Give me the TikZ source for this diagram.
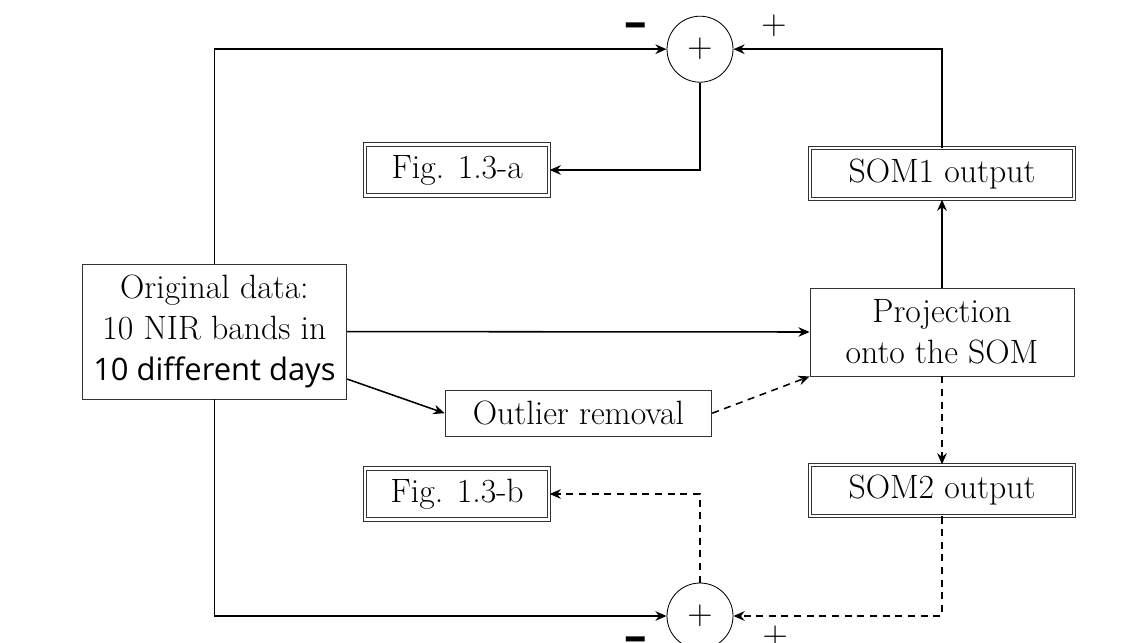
\documentclass[tikz,border=0pt]{standalone}
\usepackage{fontspec}
\usepackage{tikz}
\usetikzlibrary{arrows.meta,positioning,calc}
\newfontfamily\daysfont{Open Sans}

\begin{document}
\begin{tikzpicture}[
    node distance=2.25cm,
    every node/.style={font=\fontsize{24}{29}\selectfont},
    box/.style={draw=black!80, line width=0.6pt, minimum height=1.15cm,
                align=center, inner sep=2pt},
    outbox/.style={box, double, double distance=1.8pt,
                   minimum height=1.28cm},
    sum/.style={draw, circle, line width=0.6pt, minimum size=1.65cm, inner sep=0pt},
    sign/.style={inner sep=0pt},
    arrow/.style={-{Stealth[length=2.8mm,width=2.4mm]}, line width=1.1pt},
    darrow/.style={arrow, dash pattern=on 5pt off 4pt}
]
    \useasboundingbox (0,0) rectangle (28.5,-16.05);
    \node[box, minimum width=6.62cm, minimum height=3.37cm] (orig) at (5.36,-8.29)
        {Original data:\\10 NIR bands in\\{\daysfont\fontsize{22}{29}\selectfont 10 different days}};
    \node[box, minimum width=6.6cm, minimum height=2.2cm] (proj) at (23.55,-8.3)
        {Projection\\onto the SOM};
    \node[box, minimum width=6.67cm] (outl) at (14.46,-10.33) {Outlier removal};
    \node[outbox, minimum width=6.6cm, above=2.2cm of proj] (som1) {SOM1 output};
    \node[outbox, minimum width=6.6cm, below=2.2cm of proj] (som2) {SOM2 output};
    \node[outbox, minimum width=4.6cm] (figa) at (11.43,-4.25) {Fig. 1.3-a};
    \node[outbox, minimum width=4.6cm] (figb) at (11.43,-12.35) {Fig. 1.3-b};
    \node[sum] (sumtop) at (17.5,-1.23) {$+$};
    \node[sum] (sumbot) at (17.5,-15.4) {$+$};
    % signs at the summing points
    \node[sign] (mtop) at (15.9,-0.76) {\daysfont\bfseries\fontsize{32}{32}\selectfont –};
    \node[sign] (ptop) at (19.35,-0.65) {$+$};
    \node[sign] (mbot) at (15.9,-16.1) {\daysfont\bfseries\fontsize{32}{32}\selectfont –};
    \node[sign] (pbot) at (19.38,-15.93) {$+$};

    \draw[arrow] (orig.north) |- (sumtop.west);
    \draw[arrow] (som1.north) |- (sumtop.east);
    \draw[arrow] (sumtop.south) |- (figa.east);
    \draw[arrow] (orig.east) -- (proj.west);
    \draw[arrow] ($(orig.east)!0.7!(orig.south east)$) -- (outl.west);
    \draw[darrow] (outl.east) -- (proj.south west);
    \draw[arrow] (proj.north) -- (som1.south);
    \draw[darrow] (proj.south) -- (som2.north);
    \draw[darrow] (som2.south) |- (sumbot.east);
    \draw[darrow] (sumbot.north) |- (figb.east);
    \draw[arrow] (orig.south) |- (sumbot.west);
\end{tikzpicture}
\end{document}
